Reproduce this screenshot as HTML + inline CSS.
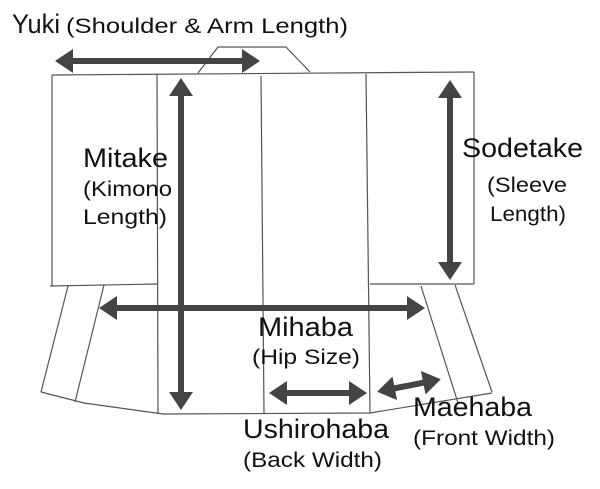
<!DOCTYPE html>
<html><head><style>body{margin:0;background:#fff}svg{display:block}</style></head><body>
<svg width="600" height="489" viewBox="0 0 600 489" xmlns="http://www.w3.org/2000/svg">
<g stroke="#555" stroke-width="1.2" fill="none">
<line x1="52" y1="75" x2="474" y2="72"/>
<polyline points="198,73 218,47 286,47 310,72"/>
<line x1="52" y1="75" x2="52" y2="286"/>
<line x1="157" y1="74" x2="158" y2="414"/>
<line x1="261" y1="76" x2="264" y2="413"/>
<line x1="366" y1="74" x2="370" y2="413"/>
<line x1="474" y1="72" x2="474" y2="284"/>
<line x1="50" y1="286" x2="158" y2="284"/>
<line x1="370" y1="284" x2="474" y2="284"/>
<line x1="68" y1="286" x2="41" y2="392"/>
<line x1="104" y1="285" x2="75" y2="402"/>
<line x1="421" y1="286" x2="458" y2="403"/>
<line x1="455" y1="285" x2="492" y2="392"/>
<polyline points="41,392 84,403 163,414 370,413 492,393"/>
</g>
<defs><marker id="a" markerWidth="4" markerHeight="4" refX="1.5" refY="2" orient="auto-start-reverse" markerUnits="strokeWidth"><path d="M0,0 L3,2 L0,4 Z" fill="#444"/></marker></defs>
<g stroke="#444" stroke-width="6" marker-start="url(#a)" marker-end="url(#a)">
<line x1="64" y1="61" x2="251" y2="61"/>
<line x1="181" y1="87" x2="181" y2="401"/>
<line x1="450" y1="89" x2="450" y2="271"/>
<line x1="108" y1="308" x2="416" y2="308"/>
<line x1="278" y1="393" x2="358" y2="393"/>
<line x1="386" y1="390" x2="432" y2="381"/>
</g>
<g font-family="Liberation Sans, sans-serif" fill="#111">
<text x="12" y="33" font-size="27" textLength="48" lengthAdjust="spacingAndGlyphs">Yuki</text>
<text x="66" y="33" font-size="21" textLength="282" lengthAdjust="spacingAndGlyphs">(Shoulder &amp; Arm Length)</text>
<text x="83" y="167" font-size="27" textLength="85" lengthAdjust="spacingAndGlyphs">Mitake</text>
<text x="83" y="196" font-size="21" textLength="89" lengthAdjust="spacingAndGlyphs">(Kimono</text>
<text x="83" y="224" font-size="21" textLength="84" lengthAdjust="spacingAndGlyphs">Length)</text>
<text x="462" y="157" font-size="27" textLength="121" lengthAdjust="spacingAndGlyphs">Sodetake</text>
<text x="487" y="192" font-size="21" textLength="80" lengthAdjust="spacingAndGlyphs">(Sleeve</text>
<text x="490" y="221" font-size="21" textLength="76" lengthAdjust="spacingAndGlyphs">Length)</text>
<text x="258" y="336" font-size="27" textLength="95" lengthAdjust="spacingAndGlyphs">Mihaba</text>
<text x="252" y="364" font-size="21" textLength="108" lengthAdjust="spacingAndGlyphs">(Hip Size)</text>
<text x="243" y="438" font-size="27" textLength="146" lengthAdjust="spacingAndGlyphs">Ushirohaba</text>
<text x="243" y="467" font-size="21" textLength="139" lengthAdjust="spacingAndGlyphs">(Back Width)</text>
<text x="413" y="416" font-size="27" textLength="119" lengthAdjust="spacingAndGlyphs">Maehaba</text>
<text x="413" y="445" font-size="21" textLength="142" lengthAdjust="spacingAndGlyphs">(Front Width)</text>
</g>
</svg>
</body></html>
